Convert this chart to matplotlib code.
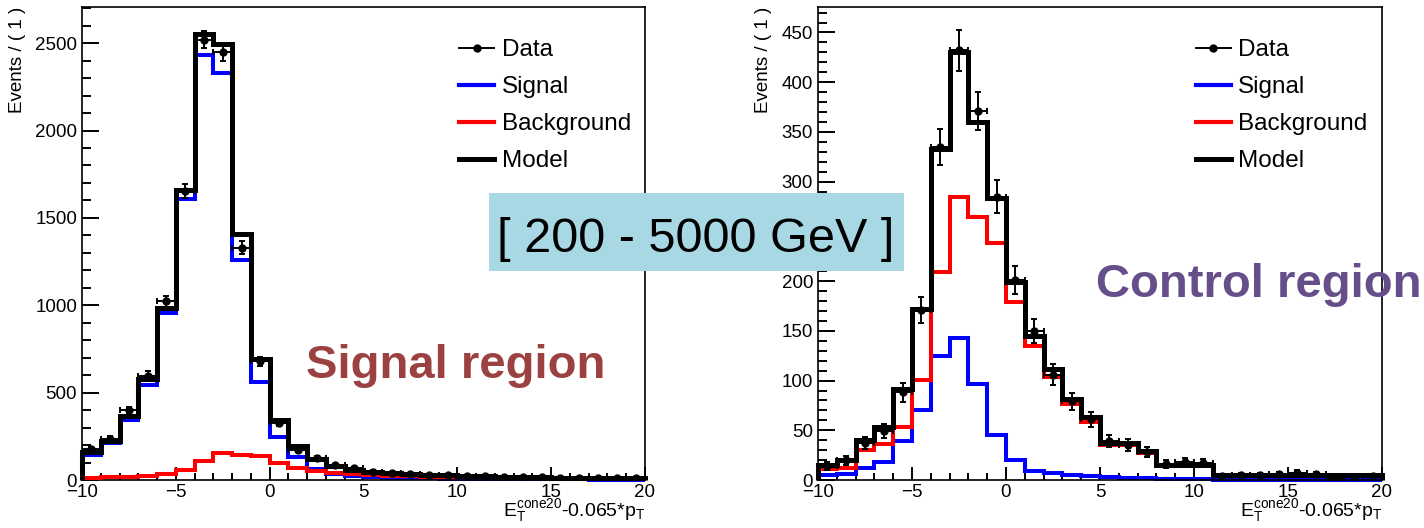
import numpy as np
import matplotlib.pyplot as plt
from matplotlib.lines import Line2D
from matplotlib.patches import Rectangle
from matplotlib.ticker import MultipleLocator

plt.rcParams['font.family'] = ['Liberation Sans', 'DejaVu Sans']
plt.rcParams['mathtext.fontset'] = 'custom'
plt.rcParams['mathtext.rm'] = 'Liberation Sans'
plt.rcParams['mathtext.default'] = 'regular'

# bin edges of E_T^cone20 - 0.065*p_T, width 1
edges = np.arange(-10, 21, 1)
centres = edges[:-1] + 0.5

# Signal region
sr_data = [178, 236, 398, 598, 1023, 1654, 2520, 2450, 1330, 680, 328, 172, 125, 85, 66,
           48, 40, 35, 30, 27, 23, 21, 19, 17, 15, 14, 13, 12, 11, 10]
sr_signal = [145, 210, 345, 546, 953, 1606, 2435, 2330, 1257, 559, 244, 130, 65, 35, 22,
             16, 13, 11, 9, 8, 7, 6, 5, 4, 4, 3, 3, 2, 2, 2]
sr_bkg = [13, 15, 20, 25, 35, 60, 107, 155, 145, 135, 95, 66, 50, 40, 33,
          29, 25, 22, 20, 18, 16, 15, 14, 13, 12, 11, 10, 10, 9, 8]
sr_model = [158, 225, 365, 579, 986, 1662, 2550, 2493, 1410, 693, 344, 197, 118, 80, 60,
            45, 38, 33, 29, 26, 23, 21, 19, 17, 16, 14, 13, 12, 11, 10]

# Control region
cr_data = [14, 20, 37, 49, 88, 171, 335, 432, 371, 285, 201, 150, 106, 79, 61,
           39, 35, 28, 16, 18, 17, 4, 5, 5, 6, 7, 6, 1, 3, 4]
cr_signal = [5, 6, 12, 18, 39, 70, 125, 143, 97, 45, 20, 9, 7, 5, 4,
             3, 2, 2, 1, 1, 1, 0.5, 0.5, 0.5, 0.5, 0.5, 0.5, 0.5, 0.5, 0.5]
cr_bkg = [11, 12, 30, 36, 53, 101, 209, 285, 264, 238, 179, 135, 104, 76, 58,
          35, 35, 27, 14, 14, 14, 4.5, 4.5, 4.5, 4.5, 4.5, 4.5, 4.5, 4.5, 4.5]
cr_model = [15, 20, 40, 53, 92, 172, 333, 430, 360, 284, 199, 145, 112, 81, 63,
            37, 37, 29, 15, 15, 15, 5, 5, 5, 5, 5, 5, 5, 5, 5]

fig = plt.figure(figsize=(14.24, 5.28), dpi=100)
ax1 = fig.add_axes([0.0576, 0.0909, 0.3953, 0.8958])
ax2 = fig.add_axes([0.5744, 0.0909, 0.3961, 0.8958])


# one ROOT-like frame: components, model, data, legend, axes
def panel(ax, data, sig, bkg, model, ymax, major, minor, ylab_x):
    ax.stairs(sig, edges, color='blue', lw=2.9, clip_on=False, zorder=2)
    ax.stairs(bkg, edges, color='red', lw=2.9, clip_on=False, zorder=3)
    ax.stairs(model, edges, color='black', lw=3.6, clip_on=False, zorder=4)
    ax.errorbar(centres, data, yerr=np.sqrt(data), xerr=0.5, fmt='o', color='black',
                ms=5, lw=1.4, capsize=2.5, capthick=1.4, zorder=5)

    ax.set_xlim(-10, 20)
    ax.set_ylim(0, ymax)
    ax.xaxis.set_major_locator(MultipleLocator(5))
    ax.xaxis.set_minor_locator(MultipleLocator(1))
    ax.yaxis.set_major_locator(MultipleLocator(major))
    ax.yaxis.set_minor_locator(MultipleLocator(minor))
    ax.tick_params(which='both', direction='in', top=False, right=False,
                   labelsize=13.5, width=1.4)
    ax.tick_params(axis='y', which='major', length=12, pad=3.5)
    ax.tick_params(axis='y', which='minor', length=6.5)
    ax.tick_params(axis='x', which='major', length=9.5, pad=3)
    ax.tick_params(axis='x', which='minor', length=5)
    for s in ax.spines.values():
        s.set_linewidth(1.2)

    ax.set_ylabel('Events / ( 1 )', loc='top', fontsize=13.5)
    ax.yaxis.set_label_coords(ylab_x, 1.0)
    ax.set_xlabel(r'E$_T^{cone20}$-0.065*p$_T$', loc='right', fontsize=14)
    ax.xaxis.set_label_coords(1.0, -0.036)

    handles = [
        Line2D([], [], color='black', marker='o', ms=5, lw=1.4),
        Line2D([], [], color='blue', lw=3),
        Line2D([], [], color='red', lw=3),
        Line2D([], [], color='black', lw=3.6),
    ]
    ax.legend(handles, ['Data', 'Signal', 'Background', 'Model'], loc='upper left',
              bbox_to_anchor=(0.67, 0.932), frameon=False, fontsize=17.5,
              handlelength=1.45, handletextpad=0.3, labelspacing=0.62,
              borderpad=0, borderaxespad=0)


panel(ax1, sr_data, sr_signal, sr_bkg, sr_model, 2707, 500, 100, -0.0995)
panel(ax2, cr_data, cr_signal, cr_bkg, cr_model, 475.6, 50, 10, -0.0816)

# region labels
fig.text(456 / 1424, 1 - 378 / 528, 'Signal region', fontsize=34, fontweight='bold',
         color='#9c4141', ha='center', va='baseline')
fig.text(1259 / 1424, 1 - 297 / 528, 'Control region', fontsize=34, fontweight='bold',
         color='#654e8a', ha='center', va='baseline')

# pT range box
fig.add_artist(Rectangle((489 / 1424, 1 - 271 / 528), 415 / 1424, 78 / 528,
                         transform=fig.transFigure, facecolor='#a8d8e4',
                         edgecolor='none', zorder=6))
fig.text(696 / 1424, 1 - 252 / 528, '[ 200 - 5000 GeV ]', fontsize=35,
         ha='center', va='baseline', zorder=7)

fig.savefig('out.png', dpi=100)
